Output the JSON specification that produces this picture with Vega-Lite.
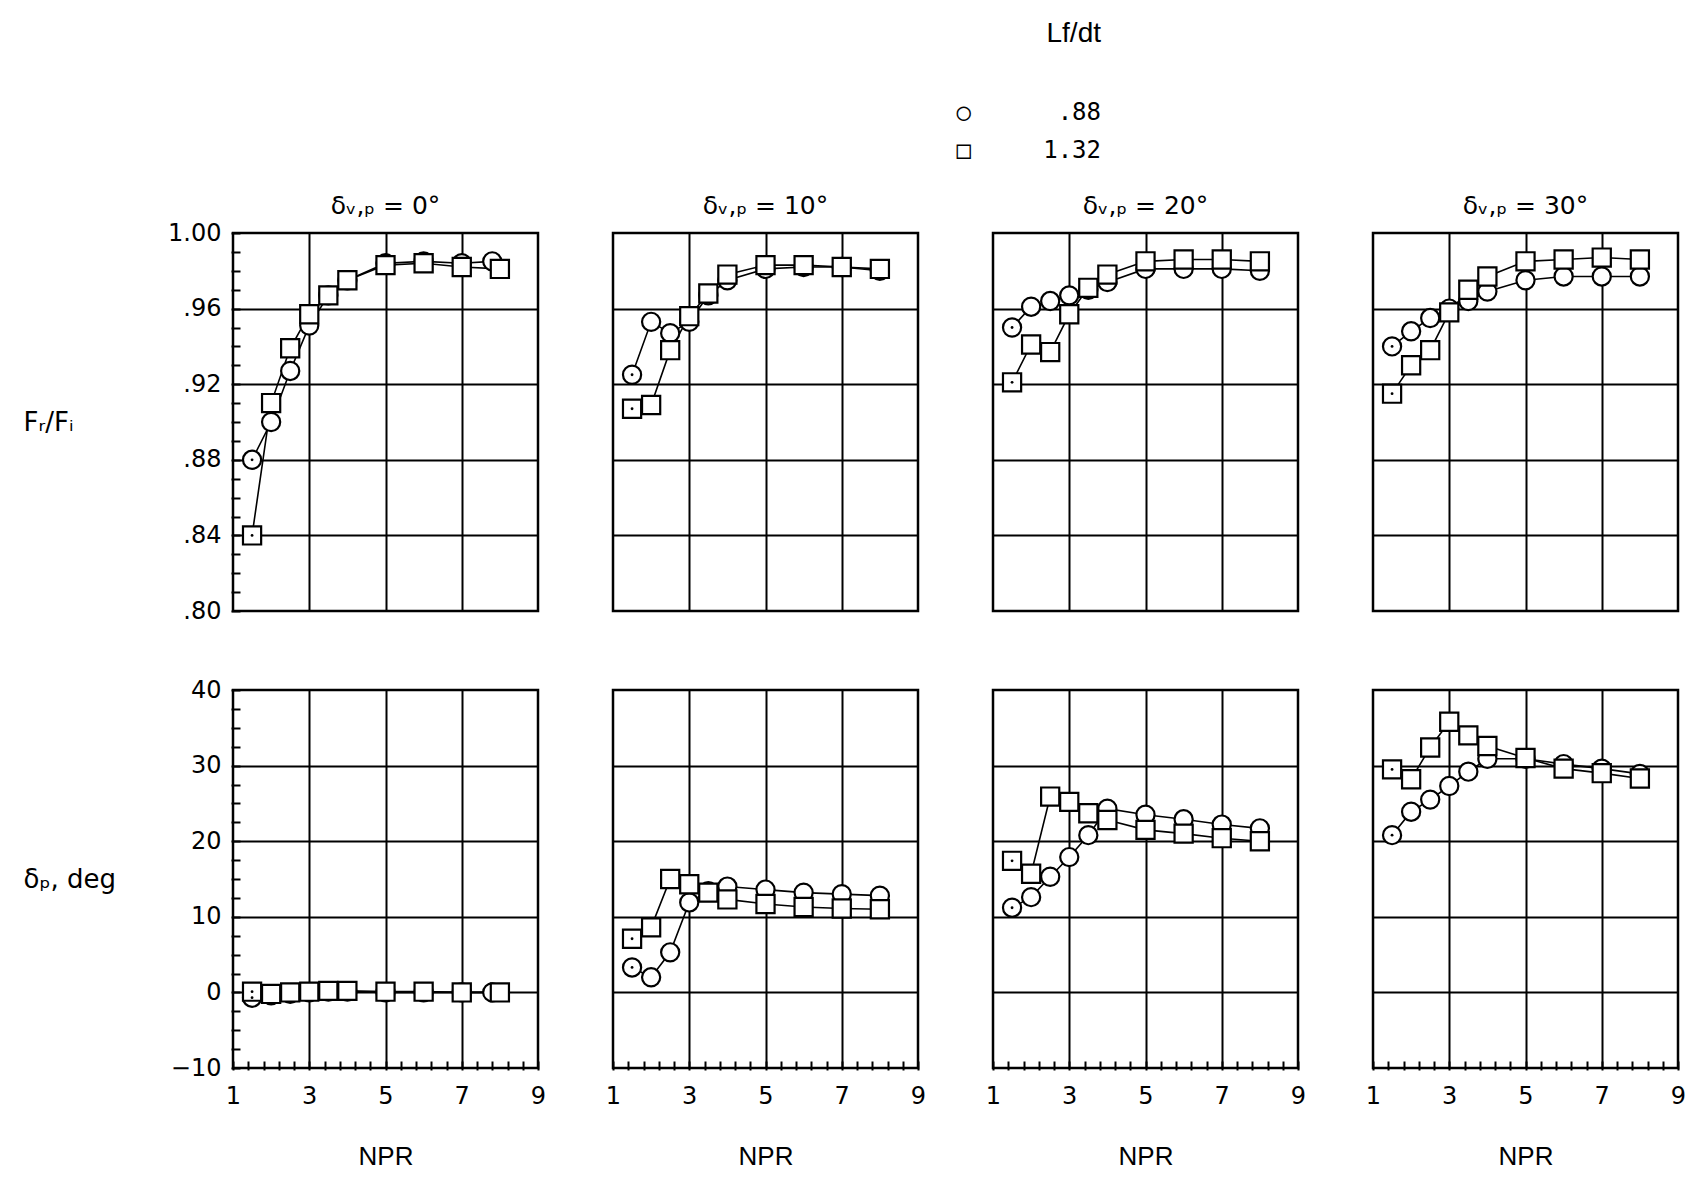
{
  "$schema": "https://vega.github.io/schema/vega-lite/v6.json",
  "background": "white",
  "padding": {"left": 23, "top": 20, "right": 5, "bottom": 5},
  "title": {
    "text": "Lf/dt",
    "subtitle": ["○\u00a0\u00a0\u00a0\u00a0\u00a0\u00a0.88", "□\u00a0\u00a0\u00a0\u00a0\u00a01.32"],
    "anchor": "start", "align": "right", "dx": 868, "frame": "group",
    "font": "Liberation Sans", "fontSize": 28, "fontWeight": "normal", "color": "black",
    "subtitleFont": "DejaVu Sans Mono", "subtitleFontSize": 24, "subtitleColor": "black",
    "subtitleLineHeight": 38, "subtitlePadding": 53, "offset": 31
  },
  "data": {"values": [
    {"dvp": 0, "L": ".88", "npr": 1.5, "fr": 0.880, "dp": -0.7},
    {"dvp": 0, "L": ".88", "npr": 2.0, "fr": 0.900, "dp": -0.4},
    {"dvp": 0, "L": ".88", "npr": 2.5, "fr": 0.927, "dp": -0.2},
    {"dvp": 0, "L": ".88", "npr": 3.0, "fr": 0.951, "dp": 0.0},
    {"dvp": 0, "L": ".88", "npr": 3.5, "fr": 0.967, "dp": 0.1},
    {"dvp": 0, "L": ".88", "npr": 4.0, "fr": 0.975, "dp": 0.1},
    {"dvp": 0, "L": ".88", "npr": 5.0, "fr": 0.984, "dp": 0.0},
    {"dvp": 0, "L": ".88", "npr": 6.0, "fr": 0.985, "dp": 0.0},
    {"dvp": 0, "L": ".88", "npr": 7.0, "fr": 0.984, "dp": 0.0},
    {"dvp": 0, "L": ".88", "npr": 7.8, "fr": 0.985, "dp": 0.0},
    {"dvp": 0, "L": "1.32", "npr": 1.5, "fr": 0.840, "dp": 0.1},
    {"dvp": 0, "L": "1.32", "npr": 2.0, "fr": 0.910, "dp": -0.2},
    {"dvp": 0, "L": "1.32", "npr": 2.5, "fr": 0.939, "dp": 0.0},
    {"dvp": 0, "L": "1.32", "npr": 3.0, "fr": 0.957, "dp": 0.1},
    {"dvp": 0, "L": "1.32", "npr": 3.5, "fr": 0.967, "dp": 0.2},
    {"dvp": 0, "L": "1.32", "npr": 4.0, "fr": 0.975, "dp": 0.2},
    {"dvp": 0, "L": "1.32", "npr": 5.0, "fr": 0.983, "dp": 0.1},
    {"dvp": 0, "L": "1.32", "npr": 6.0, "fr": 0.984, "dp": 0.1},
    {"dvp": 0, "L": "1.32", "npr": 7.0, "fr": 0.982, "dp": 0.0},
    {"dvp": 0, "L": "1.32", "npr": 8.0, "fr": 0.981, "dp": 0.0},
    {"dvp": 10, "L": ".88", "npr": 1.5, "fr": 0.925, "dp": 3.3},
    {"dvp": 10, "L": ".88", "npr": 2.0, "fr": 0.953, "dp": 2.0},
    {"dvp": 10, "L": ".88", "npr": 2.5, "fr": 0.947, "dp": 5.3},
    {"dvp": 10, "L": ".88", "npr": 3.0, "fr": 0.953, "dp": 11.9},
    {"dvp": 10, "L": ".88", "npr": 3.5, "fr": 0.967, "dp": 13.4},
    {"dvp": 10, "L": ".88", "npr": 4.0, "fr": 0.975, "dp": 14.0},
    {"dvp": 10, "L": ".88", "npr": 5.0, "fr": 0.981, "dp": 13.6},
    {"dvp": 10, "L": ".88", "npr": 6.0, "fr": 0.982, "dp": 13.2},
    {"dvp": 10, "L": ".88", "npr": 7.0, "fr": 0.982, "dp": 13.0},
    {"dvp": 10, "L": ".88", "npr": 8.0, "fr": 0.980, "dp": 12.8},
    {"dvp": 10, "L": "1.32", "npr": 1.5, "fr": 0.907, "dp": 7.1},
    {"dvp": 10, "L": "1.32", "npr": 2.0, "fr": 0.909, "dp": 8.6},
    {"dvp": 10, "L": "1.32", "npr": 2.5, "fr": 0.938, "dp": 15.0},
    {"dvp": 10, "L": "1.32", "npr": 3.0, "fr": 0.956, "dp": 14.3},
    {"dvp": 10, "L": "1.32", "npr": 3.5, "fr": 0.968, "dp": 13.2},
    {"dvp": 10, "L": "1.32", "npr": 4.0, "fr": 0.978, "dp": 12.3},
    {"dvp": 10, "L": "1.32", "npr": 5.0, "fr": 0.983, "dp": 11.7},
    {"dvp": 10, "L": "1.32", "npr": 6.0, "fr": 0.983, "dp": 11.3},
    {"dvp": 10, "L": "1.32", "npr": 7.0, "fr": 0.982, "dp": 11.1},
    {"dvp": 10, "L": "1.32", "npr": 8.0, "fr": 0.981, "dp": 11.0},
    {"dvp": 20, "L": ".88", "npr": 1.5, "fr": 0.950, "dp": 11.2},
    {"dvp": 20, "L": ".88", "npr": 2.0, "fr": 0.961, "dp": 12.6},
    {"dvp": 20, "L": ".88", "npr": 2.5, "fr": 0.964, "dp": 15.3},
    {"dvp": 20, "L": ".88", "npr": 3.0, "fr": 0.967, "dp": 17.9},
    {"dvp": 20, "L": ".88", "npr": 3.5, "fr": 0.970, "dp": 20.8},
    {"dvp": 20, "L": ".88", "npr": 4.0, "fr": 0.974, "dp": 24.3},
    {"dvp": 20, "L": ".88", "npr": 5.0, "fr": 0.981, "dp": 23.5},
    {"dvp": 20, "L": ".88", "npr": 6.0, "fr": 0.981, "dp": 22.9},
    {"dvp": 20, "L": ".88", "npr": 7.0, "fr": 0.981, "dp": 22.2},
    {"dvp": 20, "L": ".88", "npr": 8.0, "fr": 0.980, "dp": 21.7},
    {"dvp": 20, "L": "1.32", "npr": 1.5, "fr": 0.921, "dp": 17.4},
    {"dvp": 20, "L": "1.32", "npr": 2.0, "fr": 0.941, "dp": 15.7},
    {"dvp": 20, "L": "1.32", "npr": 2.5, "fr": 0.937, "dp": 25.9},
    {"dvp": 20, "L": "1.32", "npr": 3.0, "fr": 0.957, "dp": 25.2},
    {"dvp": 20, "L": "1.32", "npr": 3.5, "fr": 0.971, "dp": 23.7},
    {"dvp": 20, "L": "1.32", "npr": 4.0, "fr": 0.978, "dp": 22.8},
    {"dvp": 20, "L": "1.32", "npr": 5.0, "fr": 0.985, "dp": 21.5},
    {"dvp": 20, "L": "1.32", "npr": 6.0, "fr": 0.986, "dp": 21.0},
    {"dvp": 20, "L": "1.32", "npr": 7.0, "fr": 0.986, "dp": 20.4},
    {"dvp": 20, "L": "1.32", "npr": 8.0, "fr": 0.985, "dp": 20.0},
    {"dvp": 30, "L": ".88", "npr": 1.5, "fr": 0.940, "dp": 20.8},
    {"dvp": 30, "L": ".88", "npr": 2.0, "fr": 0.948, "dp": 23.9},
    {"dvp": 30, "L": ".88", "npr": 2.5, "fr": 0.955, "dp": 25.5},
    {"dvp": 30, "L": ".88", "npr": 3.0, "fr": 0.960, "dp": 27.3},
    {"dvp": 30, "L": ".88", "npr": 3.5, "fr": 0.964, "dp": 29.2},
    {"dvp": 30, "L": ".88", "npr": 4.0, "fr": 0.969, "dp": 30.9},
    {"dvp": 30, "L": ".88", "npr": 5.0, "fr": 0.975, "dp": 30.9},
    {"dvp": 30, "L": ".88", "npr": 6.0, "fr": 0.977, "dp": 30.2},
    {"dvp": 30, "L": ".88", "npr": 7.0, "fr": 0.977, "dp": 29.6},
    {"dvp": 30, "L": ".88", "npr": 8.0, "fr": 0.977, "dp": 28.9},
    {"dvp": 30, "L": "1.32", "npr": 1.5, "fr": 0.915, "dp": 29.5},
    {"dvp": 30, "L": "1.32", "npr": 2.0, "fr": 0.930, "dp": 28.2},
    {"dvp": 30, "L": "1.32", "npr": 2.5, "fr": 0.938, "dp": 32.4},
    {"dvp": 30, "L": "1.32", "npr": 3.0, "fr": 0.958, "dp": 35.8},
    {"dvp": 30, "L": "1.32", "npr": 3.5, "fr": 0.970, "dp": 34.0},
    {"dvp": 30, "L": "1.32", "npr": 4.0, "fr": 0.977, "dp": 32.6},
    {"dvp": 30, "L": "1.32", "npr": 5.0, "fr": 0.985, "dp": 31.0},
    {"dvp": 30, "L": "1.32", "npr": 6.0, "fr": 0.986, "dp": 29.6},
    {"dvp": 30, "L": "1.32", "npr": 7.0, "fr": 0.987, "dp": 29.0},
    {"dvp": 30, "L": "1.32", "npr": 8.0, "fr": 0.986, "dp": 28.3}
  ]},
  "spacing": 55,
  "vconcat": [
    {
      "facet": {"column": {"field": "dvp", "type": "ordinal", "header": {"title": null, "labelExpr": "'δᵥ,ₚ = ' + datum.value + '°'", "labelFontSize": 25, "labelFont": "DejaVu Sans", "labelColor": "black", "labelPadding": 12}}},
      "spacing": 71,
      "spec": {
        "width": 305,
        "height": 378,
        "encoding": {
          "x": {"field": "npr", "type": "quantitative", "scale": {"domain": [1, 9], "nice": false, "zero": false},
                "axis": {"values": [3, 5, 7], "labels": false, "ticks": false, "domain": false, "title": null, "grid": true}},
          "y": {"field": "fr", "type": "quantitative", "scale": {"domain": [0.8, 1.0], "nice": false, "zero": false},
                "axis": {
                  "values": [0.8, 0.81, 0.82, 0.83, 0.84, 0.85, 0.86, 0.87, 0.88, 0.89, 0.9, 0.91, 0.92, 0.93, 0.94, 0.95, 0.96, 0.97, 0.98, 0.99, 1.0],
                  "labelExpr": "round(datum.value*100) % 4 == 0 ? (datum.value > 0.995 ? '1.00' : slice(format(datum.value, '.2f'), 1)) : ''",
                  "gridOpacity": {"condition": {"test": "round(datum.value*100) % 4 == 0 && datum.value > 0.805 && datum.value < 0.995", "value": 1}, "value": 0},
                  "tickSize": -9, "labelPadding": 19, "domain": false,
                  "title": "Fᵣ/Fᵢ", "titleAngle": 0, "titleAlign": "left", "titleBaseline": "middle", "titleX": -208, "titleY": 189
                }}
        },
        "layer": [
          {"mark": {"type": "line", "color": "black", "strokeWidth": 1.6}, "encoding": {"detail": {"field": "L", "type": "nominal"}}},
          {"mark": {"type": "point", "filled": false, "fill": "white", "stroke": "black", "strokeWidth": 2.2, "size": 330, "opacity": 1},
           "encoding": {"shape": {"field": "L", "type": "nominal", "scale": {"domain": [".88", "1.32"], "range": ["circle", "square"]}, "legend": null}}},
          {"transform": [{"filter": "datum.npr == 1.5"}], "mark": {"type": "point", "filled": true, "color": "black", "shape": "circle", "size": 8, "opacity": 1}}
        ]
      }
    },
    {
      "facet": {"column": {"field": "dvp", "type": "ordinal", "header": {"title": null, "labels": false}}},
      "spacing": 71,
      "spec": {
        "width": 305,
        "height": 378,
        "encoding": {
          "x": {"field": "npr", "type": "quantitative", "scale": {"domain": [1, 9], "nice": false, "zero": false},
                "axis": {
                  "values": [1, 1.4, 1.8, 2.2, 2.6, 3, 3.4, 3.8, 4.2, 4.6, 5, 5.4, 5.8, 6.2, 6.6, 7, 7.4, 7.8, 8.2, 8.6, 9],
                  "labelExpr": "(datum.value == 1 || datum.value == 3 || datum.value == 5 || datum.value == 7 || datum.value == 9) ? format(datum.value, 'd') : ''",
                  "gridOpacity": {"condition": {"test": "datum.value == 3 || datum.value == 5 || datum.value == 7", "value": 1}, "value": 0},
                  "tickSize": -9, "labelPadding": 23, "domain": false,
                  "title": "NPR", "titleFont": "Liberation Sans", "titleFontSize": 26, "titlePadding": 35
                }},
          "y": {"field": "dp", "type": "quantitative", "scale": {"domain": [-10, 40], "nice": false, "zero": false},
                "axis": {
                  "values": [-10, -7.5, -5, -2.5, 0, 2.5, 5, 7.5, 10, 12.5, 15, 17.5, 20, 22.5, 25, 27.5, 30, 32.5, 35, 37.5, 40],
                  "labelExpr": "datum.value % 10 == 0 ? datum.label : ''",
                  "gridOpacity": {"condition": {"test": "datum.value == 0 || datum.value == 10 || datum.value == 20 || datum.value == 30", "value": 1}, "value": 0},
                  "tickSize": -9, "labelPadding": 19, "domain": false,
                  "title": "δₚ,  deg", "titleAngle": 0, "titleAlign": "left", "titleBaseline": "middle", "titleX": -208, "titleY": 189
                }}
        },
        "layer": [
          {"mark": {"type": "line", "color": "black", "strokeWidth": 1.6}, "encoding": {"detail": {"field": "L", "type": "nominal"}}},
          {"mark": {"type": "point", "filled": false, "fill": "white", "stroke": "black", "strokeWidth": 2.2, "size": 330, "opacity": 1},
           "encoding": {"shape": {"field": "L", "type": "nominal", "scale": {"domain": [".88", "1.32"], "range": ["circle", "square"]}, "legend": null}}},
          {"transform": [{"filter": "datum.npr == 1.5"}], "mark": {"type": "point", "filled": true, "color": "black", "shape": "circle", "size": 8, "opacity": 1}}
        ]
      }
    }
  ],
  "config": {
    "font": "DejaVu Sans",
    "view": {"stroke": "black", "strokeWidth": 2.5},
    "axis": {
      "gridColor": "black", "gridWidth": 2, "tickColor": "black", "tickWidth": 2,
      "labelColor": "black", "labelFont": "DejaVu Sans", "labelFontSize": 24,
      "titleColor": "black", "titleFont": "DejaVu Sans", "titleFontSize": 26, "titleFontWeight": "normal",
      "labelOverlap": false, "labelFlush": false
    }
  }
}
